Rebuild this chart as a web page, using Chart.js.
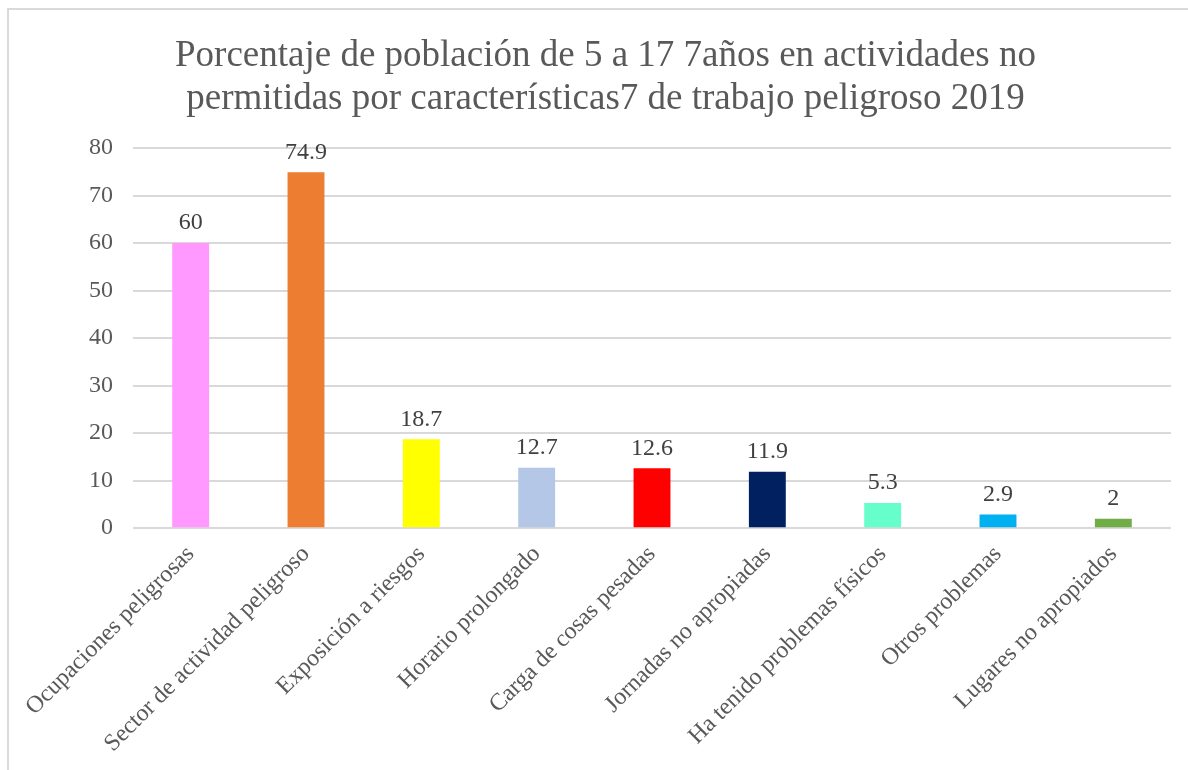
<!DOCTYPE html>
<html>
<head>
<meta charset="utf-8">
<script src="https://cdn.jsdelivr.net/npm/chart.js@4/dist/chart.umd.min.js"></script>
<style>
  body { margin: 0; background: #fff; }
  #frame { position: absolute; left: 7px; top: 8px; width: 1200px; height: 800px; border: 2px solid #d9d9d9; box-sizing: border-box; }
  #chart { position: absolute; left: 0; top: 0; }
</style>
</head>
<body>
<div id="frame"></div>
<canvas id="chart" width="1188" height="770"></canvas>
<script>
const categories = [
  'Ocupaciones peligrosas',
  'Sector de actividad peligroso',
  'Exposición a riesgos',
  'Horario prolongado',
  'Carga de cosas pesadas',
  'Jornadas no apropiadas',
  'Ha tenido problemas físicos',
  'Otros problemas',
  'Lugares no apropiados',
];
const values = [60, 74.9, 18.7, 12.7, 12.6, 11.9, 5.3, 2.9, 2];
const barColors = ['#FF99FF', '#ED7D31', '#FFFF00', '#B4C7E7', '#FF0000', '#002060', '#66FFCC', '#00B0F0', '#70AD47'];
const titleLines = [
  'Porcentaje de población de 5 a 17 7años en actividades no',
  'permitidas por características7 de trabajo peligroso 2019',
];

const serif = "'Liberation Serif', 'Times New Roman', serif";

// value labels above each bar
const barLabels = {
  id: 'barLabels',
  afterDatasetsDraw(chart) {
    const ctx = chart.ctx;
    const meta = chart.getDatasetMeta(0);
    ctx.save();
    ctx.font = '24px ' + serif;
    ctx.fillStyle = '#404040';
    ctx.textAlign = 'center';
    ctx.textBaseline = 'bottom';
    meta.data.forEach((bar, i) => {
      ctx.fillText(String(values[i]), bar.x, bar.y - 8);
    });
    ctx.restore();
  }
};

new Chart(document.getElementById('chart'), {
  type: 'bar',
  data: {
    labels: categories,
    datasets: [{
      data: values,
      backgroundColor: barColors,
      borderWidth: 0,
      barPercentage: 0.32,
      categoryPercentage: 1,
    }]
  },
  options: {
    responsive: false,
    animation: false,
    layout: { padding: { left: 40, right: 17, top: 0, bottom: 8 } },
    plugins: {
      legend: { display: false },
      tooltip: { enabled: false },
      title: {
        display: true,
        text: titleLines,
        color: '#595959',
        font: { family: serif, size: 37, weight: 'normal', lineHeight: 1.15 },
        padding: { top: 35, bottom: 28 },
      },
    },
    scales: {
      x: {
        grid: { display: false },
        border: { display: false },
        ticks: {
          color: '#595959',
          font: { family: serif, size: 24 },
          minRotation: 45,
          maxRotation: 45,
          padding: 4,
        },
      },
      y: {
        min: 0,
        max: 80,
        border: { display: false },
        grid: { color: '#d9d9d9', lineWidth: 2, drawTicks: false },
        ticks: {
          stepSize: 10,
          color: '#595959',
          font: { family: serif, size: 24 },
          padding: 20,
        },
        afterFit(scale) { scale.width = 93; },
      },
    },
  },
  plugins: [barLabels],
});
</script>
</body>
</html>
